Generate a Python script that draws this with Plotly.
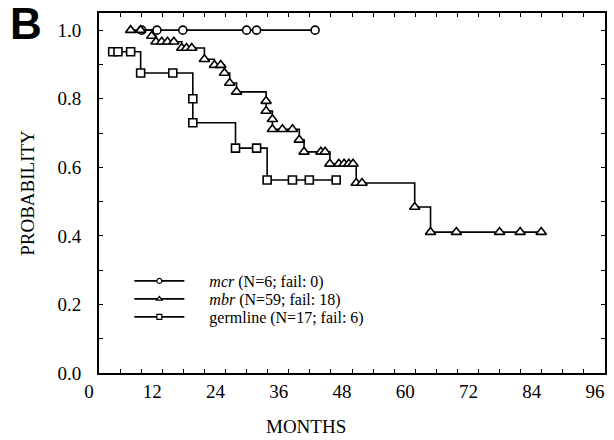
import plotly.graph_objects as go

# Kaplan-Meier style curves (months, probability)
mcr_t = [8.1, 11.0, 15.9, 28.0, 29.9, 41.0]
mcr_p = [1.0, 1.0, 1.0, 1.0, 1.0, 1.0]

mbr_t = [6.0, 7.9, 10.0, 10.8, 11.9, 13.0, 14.2, 15.7, 16.6, 17.6, 20.0, 21.9, 23.1,
         23.8, 24.8, 26.1, 31.7, 31.7, 32.9, 32.9, 34.8, 36.7, 38.0, 38.9, 42.1, 42.9,
         43.8, 45.5, 46.5, 47.4, 48.2, 48.8, 49.9, 59.9, 62.9, 67.8, 76.0, 79.9, 83.9]
mbr_p = [1.0, 1.0, 0.983, 0.966, 0.966, 0.966, 0.966, 0.948, 0.948, 0.948, 0.915, 0.898, 0.898,
         0.875, 0.846, 0.82, 0.793, 0.764, 0.74, 0.711, 0.711, 0.711, 0.68, 0.645, 0.645, 0.645,
         0.61, 0.61, 0.61, 0.61, 0.61, 0.554, 0.554, 0.484, 0.411, 0.411, 0.411, 0.411, 0.411]

germ_t = [2.6, 3.6, 6.0, 7.9, 14.0, 17.8, 17.8, 25.9, 29.9, 31.9, 36.7, 39.9, 45.0]
germ_p = [0.937, 0.937, 0.937, 0.875, 0.875, 0.80, 0.73, 0.656, 0.656, 0.563, 0.563, 0.563, 0.563]

names = ["<i>mcr</i> (N=6; fail: 0)", "<i>mbr</i> (N=59; fail: 18)", "germline (N=17; fail: 6)"]

x_ticks = [0, 12, 24, 36, 48, 60, 72, 84, 96]
y_ticks = [0.0, 0.2, 0.4, 0.6, 0.8, 1.0]

SERIF = "Liberation Serif, Times New Roman, serif"

fig = go.Figure()
series = [(mcr_t, mcr_p, "circle", 8), (mbr_t, mbr_p, "triangle-up", 9), (germ_t, germ_p, "square", 8)]
for (t, p, sym, sz), nm in zip(series, names):
    fig.add_trace(go.Scatter(
        x=t, y=p, name=nm, mode="lines+markers", showlegend=False,
        line=dict(color="black", width=1.6, shape="hv"),
        marker=dict(symbol=sym, size=sz, color="white", line=dict(color="black", width=1.6)),
    ))
# legend entries (one small legend per row) with the small key markers of the reference
legend_ids = ["legend", "legend2", "legend3"]
for (t, p, sym, sz), nm, lg in zip(series, names, legend_ids):
    fig.add_trace(go.Scatter(
        x=[None], y=[None], name="&nbsp;&nbsp;&nbsp;&nbsp;&nbsp;" + nm, mode="lines+markers",
        showlegend=True, legend=lg,
        line=dict(color="black", width=1.6),
        marker=dict(symbol=sym, size=5, color="white", line=dict(color="black", width=1.2)),
    ))

legend_rows = [281, 299, 317]  # pixel centre of each key row
leg_common = dict(x=0.06, xanchor="left", yanchor="middle", bgcolor="rgba(0,0,0,0)",
                  font=dict(family=SERIF, size=16), itemwidth=50, tracegroupgap=0)
plot_top, plot_h = 13, 360

fig.update_layout(
    width=614, height=440,
    margin=dict(l=99, r=7, t=13, b=67),
    paper_bgcolor="white", plot_bgcolor="white",
    font=dict(family=SERIF, size=19, color="black"),
    showlegend=True,
    legend=dict(y=1 - (legend_rows[0] - plot_top) / plot_h, **leg_common),
    legend2=dict(y=1 - (legend_rows[1] - plot_top) / plot_h, **leg_common),
    legend3=dict(y=1 - (legend_rows[2] - plot_top) / plot_h, **leg_common),
    annotations=[
        dict(text="<b>B</b>", x=-0.18, y=1.045, xref="paper", yref="paper",
             xanchor="left", yanchor="top", showarrow=False,
             font=dict(family="Liberation Sans, Arial, sans-serif", size=44, color="black")),
        dict(text="MONTHS", x=(307 - 99) / 508, y=-(427 - 373) / 360, xref="paper", yref="paper",
             xanchor="center", yanchor="middle", showarrow=False,
             font=dict(family=SERIF, size=19, color="black")),
    ],
)

fig.update_xaxes(
    range=[0, 96], tickvals=x_ticks, ticktext=[str(v) for v in x_ticks],
    showline=True, linecolor="black", linewidth=2, mirror="allticks",
    ticks="inside", ticklen=4, tickcolor="black",
    minor=dict(dtick=4, ticks="inside", ticklen=4, tickcolor="black"),
    showgrid=False, zeroline=False,
    tickfont=dict(family=SERIF, size=19), ticklabelshift=-10,
)
fig.update_yaxes(
    range=[0, 1.05], tickvals=y_ticks, ticktext=[f"{v:.1f}" for v in y_ticks],
    showline=True, linecolor="black", linewidth=2, mirror="allticks",
    ticks="inside", ticklen=4, tickcolor="black",
    minor=dict(dtick=0.1, ticks="inside", ticklen=4, tickcolor="black"),
    showgrid=False, zeroline=False,
    title=dict(text="PROBABILITY", font=dict(family=SERIF, size=19), standoff=18),
    tickfont=dict(family=SERIF, size=19), ticklabelstandoff=12,
)

fig.write_html("out.html")
